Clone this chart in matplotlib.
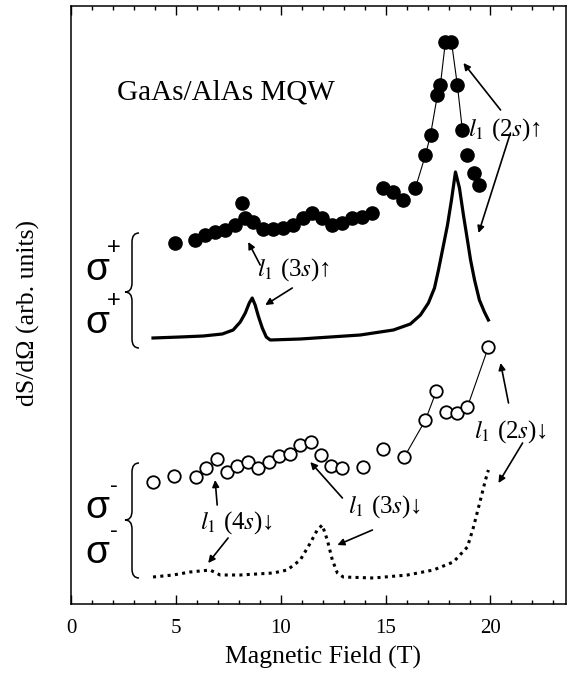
import numpy as np
import matplotlib
matplotlib.use('Agg')
import matplotlib.pyplot as plt
from matplotlib.path import Path
from matplotlib.patches import PathPatch

plt.rcParams['font.family'] = ['Liberation Serif', 'DejaVu Serif']
plt.rcParams['mathtext.fontset'] = 'stix'

# sigma+ data (filled circles)
up_B = [4.96, 5.92, 6.40, 6.87, 7.35, 7.83, 8.16, 8.31, 8.69, 9.16, 9.64, 10.12,
        10.60, 11.07, 11.50, 11.98, 12.46, 12.94, 13.41, 13.89, 14.37, 14.89,
        15.37, 15.85, 16.42, 16.90, 17.14, 17.47, 17.61, 17.85, 18.14, 18.42,
        18.66, 18.90, 19.19, 19.43]
up_S = [36.1, 36.4, 36.9, 37.2, 37.4, 37.9, 40.1, 38.6, 38.2, 37.5, 37.5, 37.6,
        37.9, 38.6, 39.1, 38.6, 37.9, 38.1, 38.6, 38.7, 39.1, 41.6,
        41.2, 40.4, 41.6, 44.9, 46.9, 50.9, 51.9, 56.2, 56.2, 51.9,
        47.4, 44.9, 43.1, 41.9]

# sigma+ calculated (solid line)
upc_B = [3.91, 5.20, 6.30, 7.21, 7.73, 8.07, 8.31, 8.50, 8.64, 8.78, 8.93, 9.12,
         9.31, 9.50, 10.93, 12.36, 13.79, 15.37, 16.18, 16.66, 17.04, 17.33,
         17.52, 17.76, 17.95, 18.14, 18.33, 18.52, 18.71, 18.90, 19.05, 19.24,
         19.47, 19.71, 19.90]
upc_S = [26.6, 26.7, 26.8, 27.0, 27.4, 28.2, 29.1, 30.1, 30.6, 29.9, 28.8, 27.6,
         26.7, 26.4, 26.5, 26.7, 26.9, 27.4, 28.0, 28.9, 30.1, 31.6,
         33.4, 35.9, 37.9, 40.4, 43.2, 41.6, 38.9, 36.4, 34.4, 32.4,
         30.4, 29.2, 28.4]

# sigma- data (open circles)
dn_B = [3.91, 4.92, 5.97, 6.44, 6.97, 7.45, 7.92, 8.45, 8.93, 9.45, 9.93, 10.45,
        10.93, 11.46, 11.93, 12.41, 12.94, 13.94, 14.89, 15.89, 16.90, 17.42,
        17.90, 18.38, 18.90, 19.90]
dn_S = [12.2, 12.8, 12.7, 13.6, 14.5, 13.2, 13.8, 14.2, 13.6, 14.2, 14.8, 15.0,
        15.9, 16.2, 14.9, 13.8, 13.6, 13.7, 15.5, 14.7, 18.4, 21.3,
        19.2, 19.1, 19.7, 25.7]

# sigma- calculated (dotted line)
dnc_B = [3.91, 4.87, 5.68, 6.63, 7.11, 8.07, 9.64, 10.31, 10.93, 11.41, 11.74,
         11.98, 12.22, 12.46, 12.70, 12.98, 14.42, 16.04, 17.28, 18.23, 18.90,
         19.19, 19.52, 19.76, 19.90]
dnc_S = [2.7, 2.9, 3.2, 3.4, 2.9, 2.9, 3.1, 3.4, 4.4, 6.1, 7.4,
         7.9, 6.4, 4.4, 3.1, 2.7, 2.6, 2.9, 3.4, 4.2, 5.7,
         7.7, 10.4, 12.4, 13.4]

W, H = 576, 680
fig = plt.figure(figsize=(W / 100, H / 100), dpi=100)
ax = fig.add_axes([71 / W, 1 - 604 / H, 495 / W, 598.5 / H])

ax.plot(up_B[24:33], up_S[24:33], '-', color='k', lw=0.8, zorder=2)
ax.plot(up_B, up_S, 'o', color='k', ms=9.5, zorder=3)
ax.plot(upc_B, upc_S, '-', color='k', lw=2.3, zorder=2)
ax.plot(dn_B[19:22], dn_S[19:22], '-', color='k', lw=0.8, zorder=2)
ax.plot(dn_B[24:26], dn_S[24:26], '-', color='k', lw=0.8, zorder=2)
ax.plot(dn_B, dn_S, 'o', mfc='white', mec='k', mew=1.3, ms=9, zorder=3)
ax.plot(dnc_B, dnc_S, color='k', lw=2.2, linestyle=(0, (1, 1.4)), zorder=2)

ax.set_xlim(0, 23.6)
ax.set_ylim(0, 59.85)
ax.set_xticks(np.arange(0, 21, 5))
ax.set_xticks(np.arange(0, 24, 1), minor=True)
ax.set_yticks([])
ax.tick_params(axis='x', which='both', direction='in', top=True, labelsize=15, pad=11)
ax.tick_params(axis='x', which='major', length=6.5, width=1)
ax.tick_params(axis='x', which='minor', length=3.2, width=1)
for s in ax.spines.values():
    s.set_linewidth(1.1)

fig.text(323 / W, 1 - 657 / H, 'Magnetic Field (T)', fontsize=18.5, ha='center', va='center')
fig.text(28 / W, 1 - 313 / H, 'dS/dΩ (arb. units)', fontsize=18.5, rotation=90,
         ha='center', va='center')

ax.text(2.2, 51.1, 'GaAs/AlAs MQW', fontsize=21, ha='left', va='center')

labels = [(8.88, 33.4, r'$l_1$ (3$s$)↑'),
          (18.95, 47.4, r'$l_1$ (2$s$)↑'),
          (19.19, 17.2, r'$l_1$ (2$s$)↓'),
          (13.22, 9.7, r'$l_1$ (3$s$)↓'),
          (6.16, 8.1, r'$l_1$ (4$s$)↓')]
for x, y, t in labels:
    ax.text(x, y, t, fontsize=18, ha='left', va='center')

arrows = [((9.02, 33.9), (8.45, 36.2)), ((10.55, 31.6), (9.26, 29.9)),
          ((20.48, 49.4), (18.71, 54.1)), ((20.95, 47.1), (19.43, 37.1)),
          ((20.86, 20.1), (20.48, 24.1)), ((21.53, 16.1), (20.38, 12.1)),
          ((12.94, 10.6), (11.41, 14.2)), ((14.37, 7.4), (12.70, 5.9)),
          ((6.97, 9.9), (6.87, 12.4)), ((7.49, 6.6), (6.54, 4.1))]
for tail, head in arrows:
    ax.annotate('', xy=head, xytext=tail,
                arrowprops=dict(arrowstyle='-|>', color='k', lw=1.2,
                                mutation_scale=10, shrinkA=0, shrinkB=0))


def brace(x0, ytop, ymid, ybot, w=7, r=9):
    pts = [(x0 + w, ytop), (x0, ytop), (x0, ytop + r),
           (x0, ymid - r), (x0, ymid), (x0 - w, ymid),
           (x0, ymid), (x0, ymid + r),
           (x0, ybot - r), (x0, ybot), (x0 + w, ybot)]
    codes = [Path.MOVETO, Path.CURVE3, Path.CURVE3,
             Path.LINETO, Path.CURVE3, Path.CURVE3,
             Path.CURVE3, Path.CURVE3,
             Path.LINETO, Path.CURVE3, Path.CURVE3]
    pts = [(px / W, 1 - py / H) for px, py in pts]
    fig.patches.append(PathPatch(Path(pts, codes), fill=False, lw=1.1,
                                 transform=fig.transFigure))


brace(132, 233, 292, 348)
brace(132, 463, 520, 578)

sig = [(270, '+'), (323, '+'), (508, '-'), (553, '-')]
for py, sgn in sig:
    fig.text(97 / W, 1 - py / H, 'σ', fontsize=28, family='Liberation Sans',
             ha='center', va='center')
    fig.text(114 / W, 1 - (py - 22) / H, sgn, fontsize=17, family='Liberation Sans',
             ha='center', va='center')

fig.savefig('out.png', dpi=100)
